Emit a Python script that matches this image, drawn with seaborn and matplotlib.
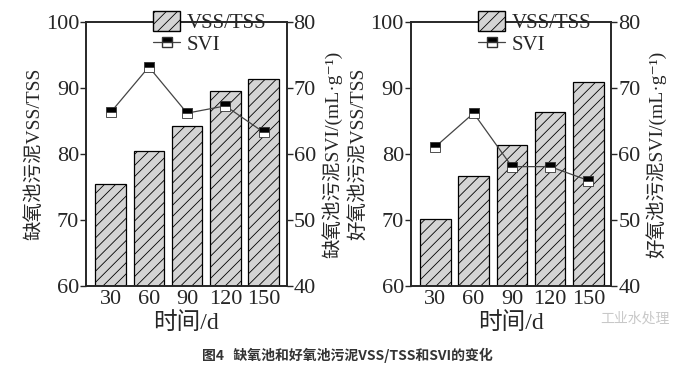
import matplotlib
matplotlib.use("Agg")
import matplotlib.pyplot as plt
import seaborn as sns
from matplotlib.patches import Patch
from matplotlib.lines import Line2D

days = ["30", "60", "90", "120", "150"]

# anoxic tank
anoxic_vss = [75.4, 80.4, 84.3, 89.5, 91.4]
anoxic_svi = [66.3, 73.2, 66.2, 67.3, 63.3]

# aerobic tank
aerobic_vss = [70.2, 76.7, 81.4, 86.4, 90.9]
aerobic_svi = [61.1, 66.2, 58.1, 58.1, 56.0]

sns.set_style("ticks")
plt.rcParams['font.family'] = ['Liberation Serif', 'DejaVu Serif', 'Noto Sans CJK SC']
plt.rcParams['hatch.linewidth'] = 0.6

fig = plt.figure(figsize=(6.94, 3.80), dpi=100)

panels = [
    (0.124, anoxic_vss, anoxic_svi, "缺氧池污泥VSS/TSS", "缺氧池污泥SVI/(mL·g⁻¹)"),
    (0.592, aerobic_vss, aerobic_svi, "好氧池污泥VSS/TSS", "好氧池污泥SVI/(mL·g⁻¹)"),
]

for left, vss, svi, lab_l, lab_r in panels:
    ax = fig.add_axes([left, 0.247, 0.289, 0.695])
    sns.barplot(x=days, y=vss, ax=ax, color="#d4d4d4", saturation=1,
                edgecolor="black", linewidth=0.9, hatch="///", width=0.8)
    ax.set_ylim(60, 100)
    ax.set_xlim(-0.64, 4.6)
    ax.set_yticks([60, 70, 80, 90, 100])
    ax.set_ylabel(lab_l, fontsize=14, labelpad=2)
    ax.set_xlabel("时间/d", fontsize=17, labelpad=2)
    ax.tick_params(axis="y", labelsize=16, length=4, width=1, pad=1)
    ax.tick_params(axis="x", labelsize=16, length=0, pad=3)
    for s in ax.spines.values():
        s.set_linewidth(1.2)

    ax2 = ax.twinx()
    sns.lineplot(x=list(range(len(days))), y=svi, ax=ax2, color="#444444",
                 linewidth=0.9, marker="s", markersize=7, fillstyle="top",
                 markerfacecolor="black", markerfacecoloralt="white",
                 markeredgecolor="#333333", markeredgewidth=0.6)
    ax2.set_ylim(40, 80)
    ax2.set_yticks([40, 50, 60, 70, 80])
    ax2.set_ylabel(lab_r, fontsize=14, labelpad=4)
    ax2.tick_params(axis="y", labelsize=16, length=4, width=1, pad=1)
    for s in ax2.spines.values():
        s.set_linewidth(1.2)

    handles = [
        Patch(facecolor="#d4d4d4", edgecolor="black", hatch="///", label="VSS/TSS"),
        Line2D([], [], color="#444444", lw=0.9, marker="s", ms=7, fillstyle="top",
               markerfacecolor="black", markerfacecoloralt="white",
               markeredgecolor="#333333", label="SVI"),
    ]
    ax2.legend(handles=handles, loc="upper right", bbox_to_anchor=(0.95, 1.08),
               frameon=False, fontsize=15, handlelength=1.3, handleheight=1.1,
               handletextpad=0.3, labelspacing=0.0, borderaxespad=0.1)

fig.text(0.915, 0.16, "工业水处理", fontsize=10, color="#c8c8c8",
         ha="center", va="center")
fig.text(0.5, 0.065, "图4   缺氧池和好氧池污泥VSS/TSS和SVI的变化", fontsize=10,
         fontweight="bold", color="#333333", ha="center", va="center",
         family=["Noto Sans CJK SC", "DejaVu Sans"])

fig.savefig("out.png", dpi=100)
